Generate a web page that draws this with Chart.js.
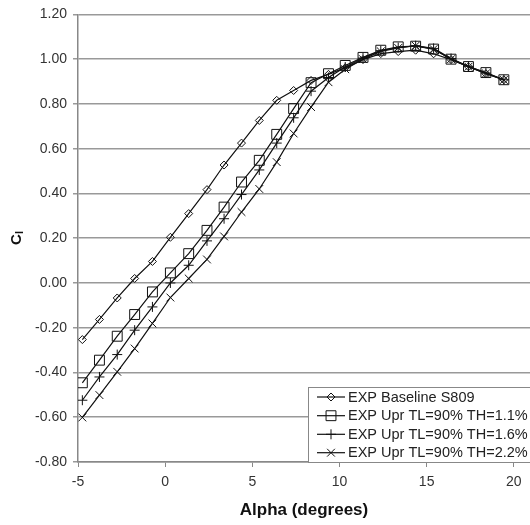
<!DOCTYPE html>
<html>
<head>
<meta charset="utf-8">
<script src="https://cdn.jsdelivr.net/npm/chart.js@4"></script>
<style>
  html, body { margin: 0; padding: 0; background: #fff; overflow: hidden; }
  /* a little wider than the window: the plot runs off the right edge */
  #wrap { width: 538px; height: 525px; position: relative; }
</style>
</head>
<body>
<div id="wrap"><canvas id="cl-chart"></canvas></div>
<script>
// angle of attack (deg)
const alpha = [-4.75, -3.77, -2.75, -1.75, -0.73, 0.3, 1.35, 2.4, 3.38, 4.38, 5.4, 6.4, 7.37,
  8.37, 9.37, 10.33, 11.35, 12.37, 13.37, 14.37, 15.4, 16.4, 17.4, 18.4, 19.43];

const baseline = [-0.253, -0.163, -0.067, 0.020, 0.096, 0.204, 0.31, 0.417, 0.527, 0.625, 0.726,
  0.816, 0.86, 0.905, 0.932, 0.962, 0.998, 1.025, 1.034, 1.04, 1.024, 0.998, 0.966, 0.935, 0.908];
const th11 = [-0.446, -0.345, -0.238, -0.141, -0.040, 0.045, 0.131, 0.235, 0.339, 0.451, 0.548,
  0.664, 0.779, 0.895, 0.935, 0.972, 1.008, 1.04, 1.055, 1.058, 1.045, 1.0, 0.967, 0.94, 0.908];
const th16 = [-0.524, -0.42, -0.32, -0.211, -0.107, 0.0, 0.079, 0.188, 0.287, 0.395, 0.505,
  0.625, 0.738, 0.857, 0.918, 0.965, 1.005, 1.038, 1.052, 1.06, 1.048, 1.003, 0.968, 0.938, 0.908];
const th22 = [-0.601, -0.501, -0.397, -0.293, -0.181, -0.065, 0.02, 0.105, 0.208, 0.317, 0.42,
  0.54, 0.668, 0.786, 0.897, 0.955, 1.0, 1.035, 1.05, 1.06, 1.045, 1.0, 0.966, 0.936, 0.907];

const seriesNames = [
  "EXP Baseline S809",
  "EXP Upr TL=90% TH=1.1%",
  "EXP Upr TL=90% TH=1.6%",
  "EXP Upr TL=90% TH=2.2%",
];
const xTicks = [-5, 0, 5, 10, 15, 20];

const FONT = "'Liberation Sans', Arial, sans-serif";

function series(label, ys, style, radius) {
  return {
    label: label,
    data: alpha.map((a, i) => ({ x: a, y: ys[i] })),
    borderColor: "#111",
    borderWidth: 1.2,
    pointStyle: style,
    pointRadius: radius,
    pointBorderColor: "#111",
    pointBorderWidth: 1,
    pointBackgroundColor: "rgba(0,0,0,0)",
    fill: false,
    tension: 0,
  };
}

// legend box in the lower right corner of the plot (runs off the right edge)
const boxLegend = {
  id: "boxLegend",
  afterDraw(chart) {
    const ctx = chart.ctx;
    const area = chart.chartArea;
    const left = 308, top = 387;
    ctx.save();
    ctx.fillStyle = "#fff";
    ctx.fillRect(left, top, area.right - left + 20, area.bottom - top);
    ctx.strokeStyle = "#888";
    ctx.lineWidth = 1;
    ctx.strokeRect(left + 0.5, top + 0.5, area.right - left + 20, area.bottom - top);
    const rows = [397, 415.7, 434.3, 452.7];
    chart.data.datasets.forEach((ds, i) => {
      const y = rows[i];
      ctx.strokeStyle = "#111";
      ctx.lineWidth = 1.2;
      ctx.beginPath();
      ctx.moveTo(317, y);
      ctx.lineTo(345, y);
      ctx.stroke();
      ctx.fillStyle = "rgba(0,0,0,0)";
      ctx.lineWidth = 1;
      Chart.helpers.drawPoint(ctx, {
        pointStyle: ds.pointStyle, radius: ds.pointRadius, borderWidth: 1, rotation: 0,
      }, 331, y);
      ctx.fillStyle = "#222";
      ctx.font = "14.5px " + FONT;
      ctx.textAlign = "left";
      ctx.textBaseline = "middle";
      ctx.fillText(ds.label, 348, y + 0.5);
    });
    ctx.restore();
  },
};

// rotated C with subscript l for the y axis
const clTitle = {
  id: "clTitle",
  afterDraw(chart) {
    const ctx = chart.ctx;
    ctx.save();
    ctx.translate(17, 238);
    ctx.rotate(-Math.PI / 2);
    ctx.fillStyle = "#111";
    ctx.textBaseline = "middle";
    ctx.textAlign = "left";
    ctx.font = "bold 15px " + FONT;
    const cw = ctx.measureText("C").width;
    ctx.font = "bold 11px " + FONT;
    const lw = ctx.measureText("l").width;
    const x0 = -(cw + lw) / 2;
    ctx.font = "bold 15px " + FONT;
    ctx.fillText("C", x0, 0);
    ctx.font = "bold 11px " + FONT;
    ctx.fillText("l", x0 + cw, 3);
    ctx.restore();
  },
};

const config = {
  type: "line",
  data: {
    datasets: [
      series(seriesNames[0], baseline, "rectRot", 4),
      series(seriesNames[1], th11, "rect", 7),
      series(seriesNames[2], th16, "cross", 5),
      series(seriesNames[3], th22, "crossRot", 5.5),
    ],
  },
  options: {
    responsive: true,
    maintainAspectRatio: false,
    animation: false,
    layout: { padding: { top: 14, right: 0, left: 0, bottom: 0 } },
    plugins: {
      legend: { display: false },
      tooltip: { enabled: false },
    },
    scales: {
      x: {
        type: "linear",
        min: -5,
        max: 20.93,
        afterBuildTicks(scale) {
          scale.ticks = xTicks.map((v) => ({ value: v }));
        },
        afterFit(scale) { scale.height = 63; },
        grid: {
          drawOnChartArea: false,
          drawTicks: true,
          tickLength: 5,
          color: "#888",
        },
        border: { display: true, color: "#888", width: 1.5 },
        ticks: {
          color: "#333",
          padding: 7,
          font: { family: FONT, size: 14 },
          maxRotation: 0,
        },
        title: {
          display: true,
          text: "Alpha (degrees)",
          color: "#111",
          font: { family: FONT, size: 17, weight: "bold" },
          padding: { top: 0, bottom: 4 },
        },
      },
      y: {
        min: -0.8,
        max: 1.2,
        afterFit(scale) { scale.width = 78; },
        ticks: {
          stepSize: 0.2,
          color: "#333",
          padding: 6,
          font: { family: FONT, size: 14 },
          callback: (v) => Number(v).toFixed(2),
        },
        grid: {
          color: "#999",
          lineWidth: 1.5,
          tickLength: 5,
        },
        border: { display: true, color: "#888", width: 1.5 },
      },
    },
  },
  plugins: [boxLegend, clTitle],
};

const clChart = new Chart(document.getElementById("cl-chart"), config);
</script>
</body>
</html>
